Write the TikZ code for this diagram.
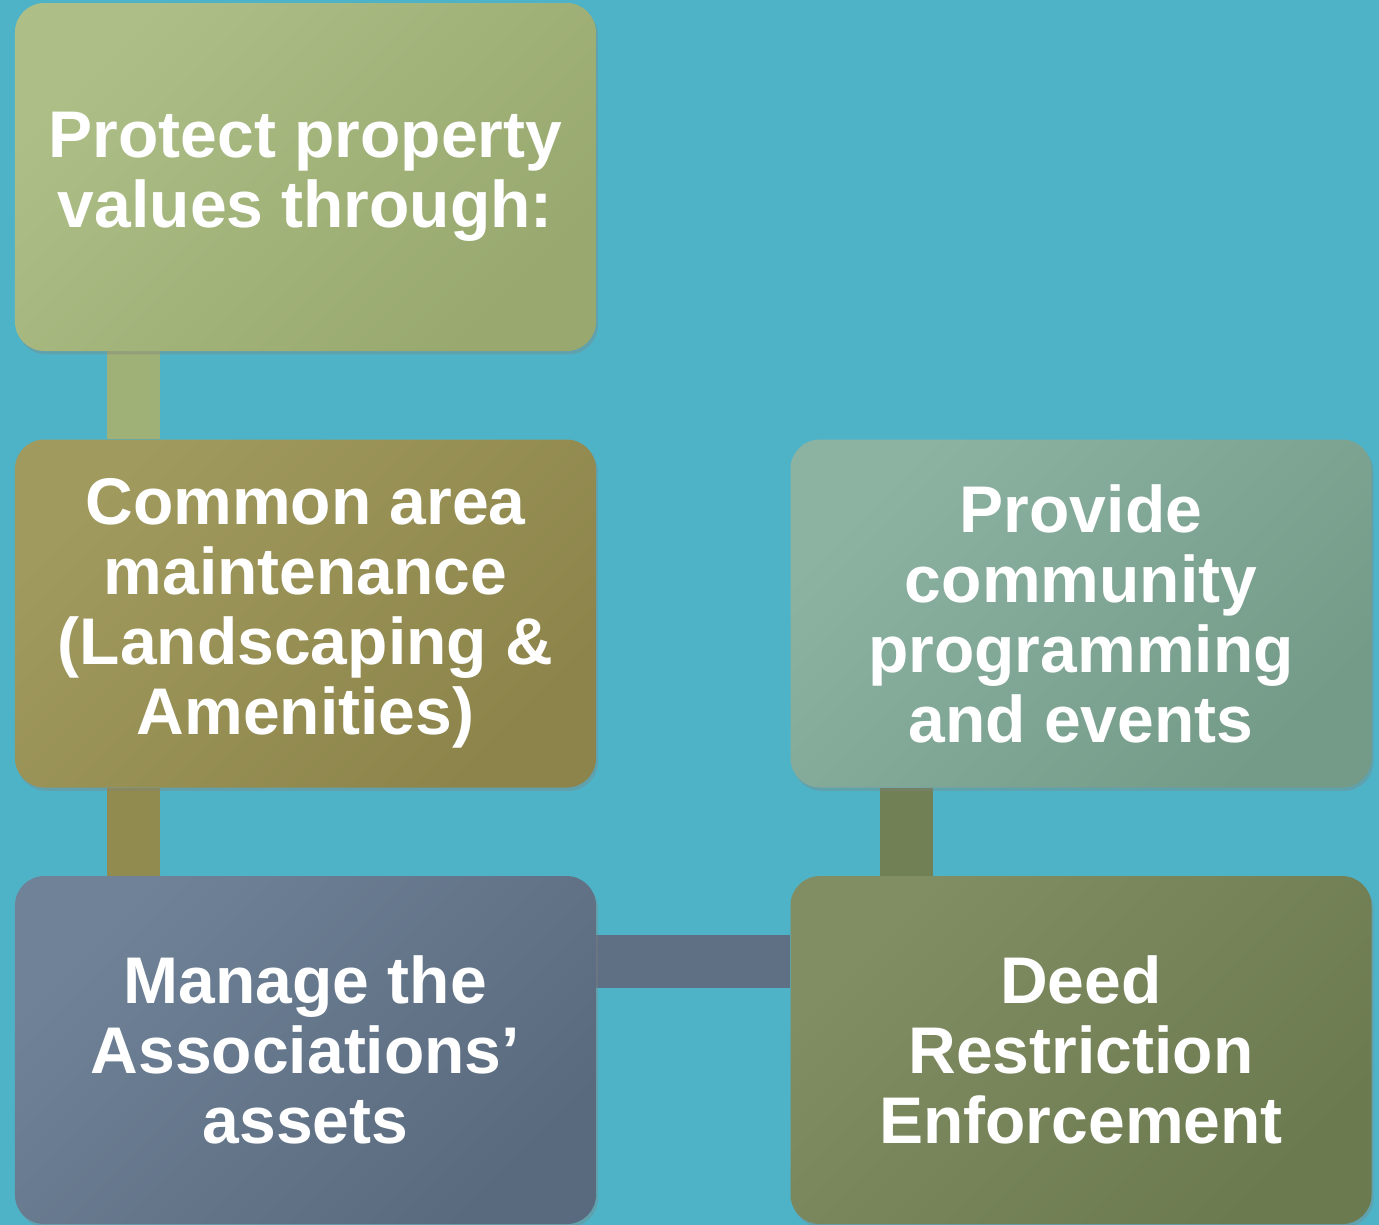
\documentclass[tikz,border=0pt]{standalone}
\usepackage{fontspec}
\setmainfont{Liberation Sans}
\usetikzlibrary{shapes, positioning, shadows}

\definecolor{backteal}{HTML}{4FB3C8}
\definecolor{sageA}{HTML}{ADBF87}
\definecolor{sageB}{HTML}{98A86E}
\definecolor{oliveA}{HTML}{A19A5E}
\definecolor{oliveB}{HTML}{8C844A}
\definecolor{slateA}{HTML}{6F8297}
\definecolor{slateB}{HTML}{5A6A7E}
\definecolor{mintA}{HTML}{8CB2A2}
\definecolor{mintB}{HTML}{749A88}
\definecolor{mossA}{HTML}{818D62}
\definecolor{mossB}{HTML}{6C7A50}

\pgfdeclarelayer{back}
\pgfsetlayers{back,main}

\tikzstyle{block} = [rectangle, rounded corners=22pt,
    minimum height=261pt, minimum width=435.75pt, align=center, text=white,
    font=\bfseries\fontsize{49.5}{52.5}\selectfont,
    drop shadow={shadow xshift=1.5pt, shadow yshift=-2.5pt, opacity=0.35}]
\tikzstyle{sage} = [top color=sageA, bottom color=sageB, shading angle=45]
\tikzstyle{olive} = [top color=oliveA, bottom color=oliveB, shading angle=45]
\tikzstyle{slate} = [top color=slateA, bottom color=slateB, shading angle=45]
\tikzstyle{mint} = [top color=mintA, bottom color=mintB, shading angle=45]
\tikzstyle{moss} = [top color=mossA, bottom color=mossB, shading angle=45]
\tikzstyle{link} = [line width=39.75pt]

\begin{document}
\begin{tikzpicture}
    \useasboundingbox (0,0) rectangle (1034.25pt,-918.75pt);
    % We start by placing the blocks
    \node [block, sage] (protect) at (229.1pt,-132.75pt)
        {Protect property\\values through:};
    \node [block, olive] (common) [below=66pt of protect]
        {Common area\\maintenance\\(Landscaping \&\\Amenities)};
    \node [block, slate] (assets) [below=66pt of common]
        {Manage the\\Associations’\\assets};
    \node [block, moss] (deed) [right=145.5pt of assets]
        {Deed\\Restriction\\Enforcement};
    \node [block, mint] (events) [above=66pt of deed]
        {Provide\\community\\programming\\and events};

    % The bars go behind the blocks
    \begin{pgfonlayer}{back}
    \fill [backteal] (0,0) rectangle (1034.25pt,-918.75pt);
    \draw [link, draw=sageB!60!sageA] ([xshift=88.9pt]protect.south west) -- ([xshift=88.9pt]common.north west);
    \draw [link, draw=oliveB!70!oliveA] ([xshift=88.9pt]common.south west) -- ([xshift=88.9pt]assets.north west);
    \draw [link, draw=slateB!75!slateA] ([yshift=-64.1pt]assets.north east) -- ([yshift=-64.1pt]deed.north west);
    \draw [link, draw=mossB!70!mossA] ([xshift=87.4pt]deed.north west) -- ([xshift=87.4pt]events.south west);
    \end{pgfonlayer}
\end{tikzpicture}
\end{document}
